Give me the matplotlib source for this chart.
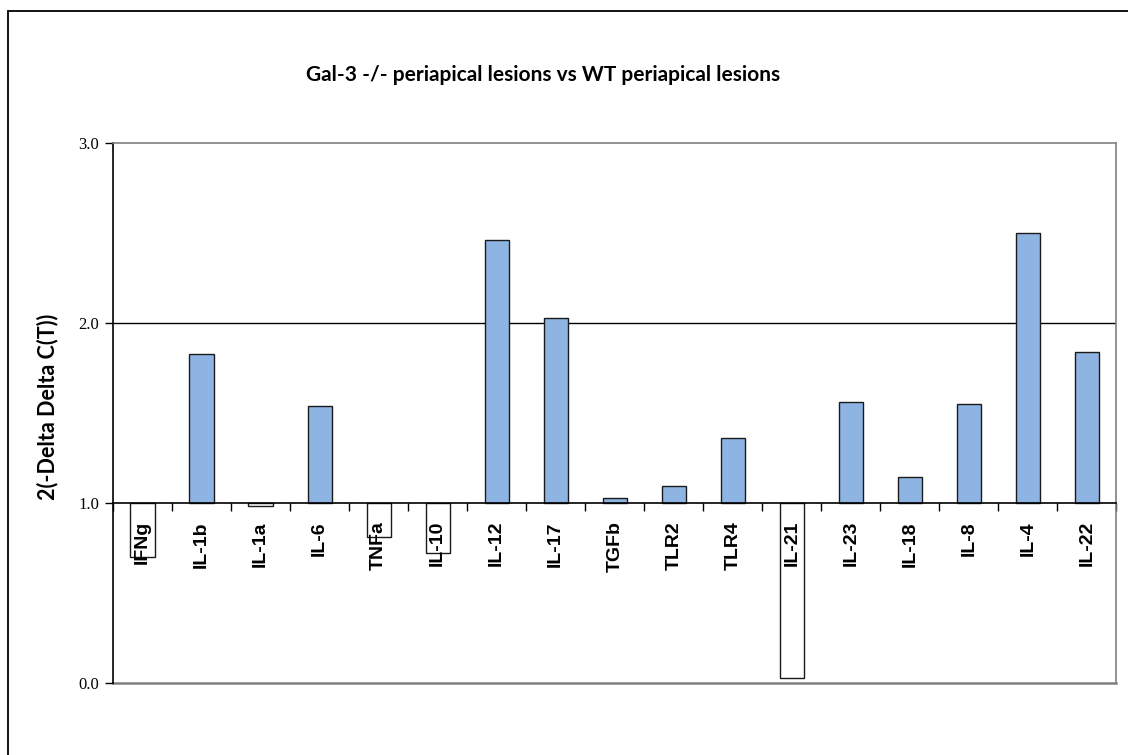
import numpy as np
import matplotlib.pyplot as plt
from matplotlib.patches import Rectangle

# fold change per gene, 2^(-ddCt)
genes = ['IFNg', 'IL-1b', 'IL-1a', 'IL-6', 'TNFa', 'IL-10', 'IL-12', 'IL-17', 'TGFb',
         'TLR2', 'TLR4', 'IL-21', 'IL-23', 'IL-18', 'IL-8', 'IL-4', 'IL-22']
fold = [0.70, 1.83, 0.985, 1.54, 0.81, 0.72, 2.46, 2.03, 1.03,
        1.094, 1.36, 0.025, 1.56, 1.146, 1.55, 2.50, 1.837]
yticks = [0.0, 1.0, 2.0, 3.0]

fig = plt.figure(figsize=(11.28, 7.55), dpi=100)
ax = fig.add_axes([0.1002, 0.0954, 0.8896, 0.7152])

x = np.arange(len(genes))
fold = np.array(fold)
colors = ['#8EB4E3' if v >= 1 else 'white' for v in fold]
ax.bar(x, fold - 1.0, bottom=1.0, width=0.41, color=colors,
       edgecolor='#1a1a1a', linewidth=1.0, zorder=2)

ax.set_xlim(-0.5, len(genes) - 0.5)
ax.set_ylim(0, 3)

# category axis crosses at 1.0
ax.spines['bottom'].set_position(('data', 1.0))
ax.spines['bottom'].set_color('black')
ax.spines['left'].set_color('black')
ax.spines['top'].set_color('#808080')
ax.spines['right'].set_color('#808080')
for s in ax.spines.values():
    s.set_linewidth(1.2)
ax.axhline(0.0, color='#808080', lw=1.8, clip_on=False, zorder=1)
ax.axhline(2.0, color='black', lw=1.0, zorder=1)

ax.set_xticks(np.arange(-0.5, len(genes) - 0.4, 1.0))
ax.set_xticklabels([])
ax.tick_params(axis='x', direction='out', length=6, width=1, color='black')

for i, g in enumerate(genes):
    ax.annotate(g, xy=(i, 1.0), xytext=(0, -13), textcoords='offset points',
                rotation=90, ha='center', va='top', fontsize=14,
                fontweight='bold', family='Liberation Sans', zorder=3)

ax.set_yticks(yticks)
ax.set_yticklabels(['%.1f' % t for t in yticks], family='Liberation Serif', fontsize=12)
ax.tick_params(axis='y', direction='out', length=6, width=1, pad=4)

ax.set_ylabel('2(-Delta Delta C(T))', fontsize=15.5, fontweight='bold', family='Lato')
ax.yaxis.set_label_coords(-0.054, 0.511)

fig.text(543 / 1128, 1 - 75 / 755, 'Gal-3 -/- periapical lesions vs WT periapical lesions',
         ha='center', va='center', fontsize=15, fontweight='bold', family='Lato')

# chart frame
fig.patches.append(Rectangle((8 / 1128, -0.01), 1.0, 744 / 755 + 0.01,
                             transform=fig.transFigure, fill=False,
                             edgecolor='black', linewidth=1.3))

plt.savefig('out.png', dpi=100)
